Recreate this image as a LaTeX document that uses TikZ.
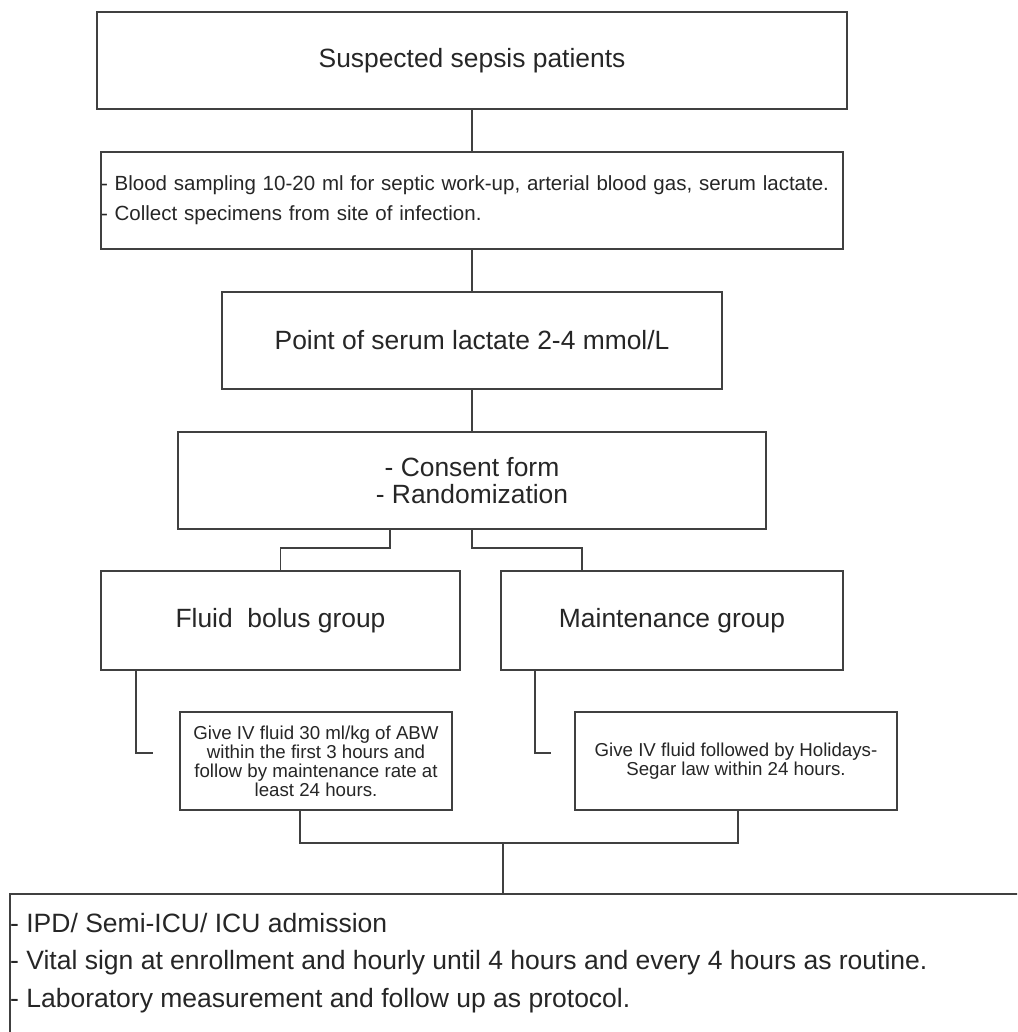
\documentclass[tikz,border=0pt]{standalone}
\usepackage{fontspec}
\setmainfont{Liberation Sans}
\usetikzlibrary{positioning}

\begin{document}
\begin{tikzpicture}[x=1pt,y=-1pt,
  box/.style={draw=black!75, line width=1.5pt, text=black!85, inner sep=0pt},
  link/.style={draw=black!75, line width=1.5pt},
  big/.style={font=\fontsize{26.4}{27}\selectfont, align=center},
  small/.style={font=\fontsize{18.7}{19}\selectfont, align=center}]

\clip (0,0) rectangle (1017,1032);
\fill[white] (0,0) rectangle (1017,1032);

\node[box, big, minimum width=750pt, minimum height=97pt] (sus) at (472,60.5) {Suspected sepsis patients};
\node[box, font=\fontsize{20.5}{30}\selectfont, text width=742pt, align=left, minimum height=97pt] (blood) at (472,200.5) {- Blood sampling 10-20 ml for septic work-up, arterial blood gas, serum lactate.\\- Collect specimens from site of infection.};
\node[box, big, minimum width=500pt, minimum height=97pt] (lac) at (472,340.5) {Point of serum lactate 2-4 mmol/L};
\node[box, big, minimum width=588pt, minimum height=97pt] (rand) at (472,480.5) {- Consent form\\- Randomization};
\node[box, big, minimum width=359pt, minimum height=99pt] (bolus) at (280.5,620.5) {Fluid\ \ bolus group};
\node[box, big, minimum width=342pt, minimum height=99pt] (maint) at (672,620.5) {Maintenance group};
\node[box, small, minimum width=272pt, minimum height=98pt] (bolusrx) at (316,761) {Give IV fluid 30 ml/kg of ABW\\within the first 3 hours and\\follow by maintenance rate at\\least 24 hours.};
\node[box, small, minimum width=322pt, minimum height=98pt] (maintrx) at (736,761) {Give IV fluid followed by Holidays-\\Segar law within 24 hours.};
\node[box, anchor=north west, minimum width=1100pt, minimum height=200pt] (care) at (9,893) {};
\node[anchor=north west, inner sep=0pt, align=left, text=black!85, font=\fontsize{26.5}{37.5}\selectfont] (caretext) at (10,913) {- IPD/ Semi-ICU/ ICU admission\\- Vital sign at enrollment and hourly until 4 hours and every 4 hours as routine.\\- Laboratory measurement and follow up as protocol.};

\path[shape=coordinate]
(390,548) coordinate(bl) (582,548) coordinate(br)
(136,753) coordinate(fa1) (153,753) coordinate(fa2)
(535,753) coordinate(ma1) (551,753) coordinate(ma2)
(300,843) coordinate(ml) (738,843) coordinate(mr)
(503,843) coordinate(mm);

\draw[link] (sus) -- (blood);
\draw[link] (blood) -- (lac);
\draw[link] (lac) -- (rand);
\draw[link] (rand.south -| bl) -- (bl) -| (bolus.north);
\draw[link] (rand.south) |- (br) -- (br |- maint.north);
\draw[link] (bolus.south -| fa1) -- (fa1) -- (fa2);
\draw[link] (maint.south -| ma1) -- (ma1) -- (ma2);
\draw[link] (bolusrx.south -| ml) -- (ml) -- (mr) -- (maintrx.south -| mr);
\draw[link] (mm) -- (care.north -| mm);

\end{tikzpicture}
\end{document}
